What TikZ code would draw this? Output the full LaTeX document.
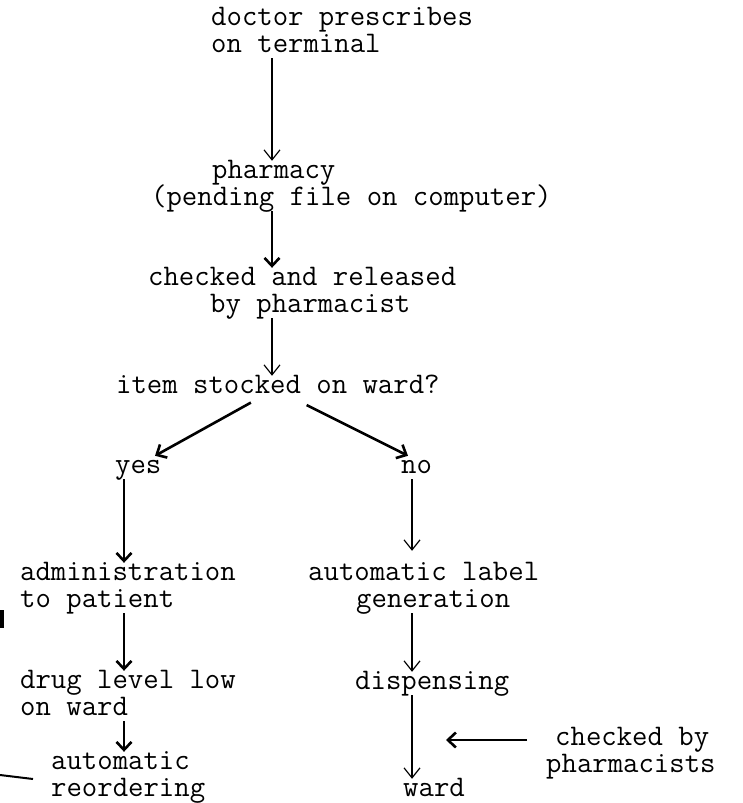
\documentclass[tikz,border=0pt]{standalone}
\usepackage{fontspec}
\usetikzlibrary{arrows.meta}
\begin{document}
\begin{tikzpicture}[x=1pt,y=-1pt,
  lbl/.style={anchor=base west, inner sep=0pt, font=\ttfamily\fontsize{29.9}{27}\selectfont, text height=17pt, text depth=6pt},
  thinarr/.style={line width=1.2pt, -{Straight Barb[length=10pt,width=16pt]}},
  boldarr/.style={line width=2.6pt, -{Straight Barb[length=8pt,width=15pt]}}]
\useasboundingbox (0,0) rectangle (743,803);
% column coordinates
\coordinate (cA) at (272,0);
\coordinate (cY) at (124,0);
\coordinate (cN) at (412,0);
\coordinate (dL1) at (257,0);
\coordinate (dL2) at (155,0);
\coordinate (dR1) at (295,0);
\coordinate (dR2) at (408,0);
% text nodes
\node[lbl] (doc1) at (211,25) {doctor prescribes};
\node[lbl] (doc2) at (211,52) {on terminal};
\node[lbl] (ph1) at (212,178) {pharmacy};
\node[lbl] (ph2) at (151,205) {(pending file on computer)};
\node[lbl] (chk1) at (148,285) {checked and released};
\node[lbl] (chk2) at (210,312) {by pharmacist};
\node[lbl] (item) at (116,393) {item stocked on ward?};
\node[lbl] (yes) at (115,473) {yes};
\node[lbl] (no) at (401,473) {no};
\node[lbl] (adm1) at (20,580) {administration};
\node[lbl] (adm2) at (20,607) {to patient};
\node[lbl] (lab1) at (308,580) {automatic label};
\node[lbl] (lab2) at (356,607) {generation};
\node[lbl] (drug1) at (20,688) {drug level low};
\node[lbl] (drug2) at (20,715) {on ward};
\node[lbl] (reo1) at (51,769) {automatic};
\node[lbl] (reo2) at (51,796) {reordering};
\node[lbl] (disp) at (355,689) {dispensing};
\node[lbl] (ward) at (403,796) {ward};
\node[lbl] (cb1) at (555,745) {checked by};
\node[lbl] (cb2) at (546,772) {pharmacists};
\coordinate (chkpt) at (446,740);
% connectors
\draw[thinarr] (doc2.south -| cA) -- (ph1.north -| cA);
\draw[boldarr] (ph2.south -| cA) -- (chk1.north -| cA);
\draw[thinarr] (chk2.south -| cA) -- (item.north -| cA);
\draw[boldarr, shorten <=7pt] (item.south -| dL1) -- (yes.north -| dL2);
\draw[boldarr, shorten <=13pt] (item.south -| dR1) -- (no.north -| dR2);
\draw[boldarr] (yes.south -| cY) -- (adm1.north -| cY);
\draw[thinarr, shorten >=12pt] (no.south -| cN) -- (lab1.north -| cN);
\draw[boldarr] (adm2.south -| cY) -- (drug1.north -| cY);
\draw[thinarr] (lab2.south -| cN) -- (disp.north -| cN);
\draw[boldarr] (drug2.south -| cY) -- (reo1.north -| cY);
\draw[thinarr] (disp.south -| cN) -- (ward.north -| cN);
\draw[boldarr] ([xshift=-28pt,yshift=5pt]cb1.base west) -- (chkpt);
% scan marks at left edge
\draw[line width=4pt] (2,610) -- (2,628);
\draw[line width=2pt] (0,775) -- (33,779);
\end{tikzpicture}
\end{document}
